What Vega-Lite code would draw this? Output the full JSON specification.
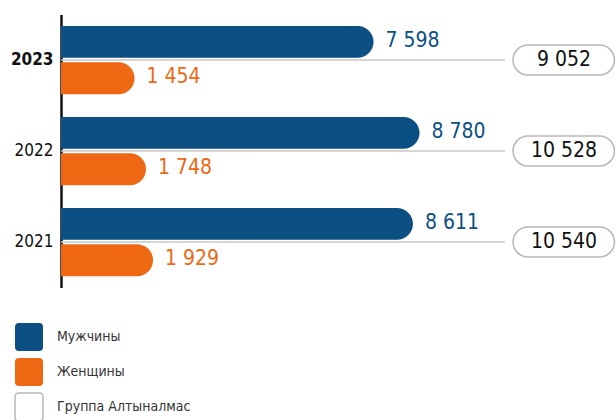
{
  "$schema": "https://vega.github.io/schema/vega-lite/v6.json",
  "width": 555,
  "height": 273,
  "autosize": {"type": "none"},
  "padding": {"left": 61, "top": 14.5, "right": 0, "bottom": 132.5},
  "background": "white",
  "config": {
    "font": "'DejaVu Sans Condensed', 'Liberation Sans Narrow', Roboto, sans-serif",
    "view": {"stroke": null},
    "locale": {"number": {"decimal": ",", "thousands": " ", "grouping": [3], "currency": ["", ""]}}
  },
  "datasets": {
    "bars": [
      {"year": "2023", "gender": "Мужчины", "value": 7598},
      {"year": "2023", "gender": "Женщины", "value": 1454},
      {"year": "2022", "gender": "Мужчины", "value": 8780},
      {"year": "2022", "gender": "Женщины", "value": 1748},
      {"year": "2021", "gender": "Мужчины", "value": 8611},
      {"year": "2021", "gender": "Женщины", "value": 1929}
    ],
    "totals": [
      {"year": "2023", "total": 9052},
      {"year": "2022", "total": 10528},
      {"year": "2021", "total": 10540}
    ]
  },
  "encoding": {
    "y": {
      "field": "year",
      "type": "nominal",
      "sort": ["2023", "2022", "2021"],
      "scale": {"paddingInner": 0.25, "paddingOuter": 0.125},
      "axis": {
        "title": null,
        "domainColor": "#111111",
        "domainWidth": 2.5,
        "ticks": false,
        "labelPadding": 8,
        "labelFontSize": 17,
        "labelColor": "#111111",
        "labelFontWeight": {"condition": {"test": "datum.value == '2023'", "value": "bold"}, "value": "normal"}
      }
    }
  },
  "layer": [
    {
      "data": {"name": "totals"},
      "mark": {"type": "rule", "color": "#c8c8c8", "strokeWidth": 1.5},
      "encoding": {
        "x": {"datum": -437, "type": "quantitative", "scale": {"domain": [-437, 13830], "zero": false, "nice": false}, "axis": null},
        "x2": {"datum": 10977}
      }
    },
    {
      "data": {"name": "bars"},
      "mark": {"type": "bar", "cornerRadiusTopRight": 16, "cornerRadiusBottomRight": 16},
      "encoding": {
        "yOffset": {"field": "gender", "type": "nominal", "sort": ["Мужчины", "Женщины"], "scale": {"paddingInner": 0.12, "paddingOuter": 0}},
        "x": {"field": "value", "type": "quantitative"},
        "x2": {"datum": -437},
        "color": {
          "field": "gender",
          "type": "nominal",
          "scale": {"domain": ["Мужчины", "Женщины", "Группа Алтыналмас"], "range": ["#0c4f82", "#ee6813", "#ffffff"]},
          "legend": {
            "title": null,
            "orient": "none",
            "legendX": -47,
            "legendY": 307.5,
            "direction": "vertical",
            "padding": 0,
            "symbolType": "M-0.75,-1H0.75A0.25,0.25 0 0 1 1,-0.75V0.75A0.25,0.25 0 0 1 0.75,1H-0.75A0.25,0.25 0 0 1 -1,0.75V-0.75A0.25,0.25 0 0 1 -0.75,-1Z",
            "symbolSize": 784,
            "symbolOpacity": 1,
            "symbolStrokeWidth": 1.5,
            "rowPadding": 1,
            "labelOffset": 13,
            "labelFontSize": 14,
            "labelColor": "#333333",
            "labelLimit": 300,
            "encode": {
              "symbols": {
                "update": {
                  "stroke": {"signal": "datum.value === 'Группа Алтыналмас' ? '#b8b8b8' : 'transparent'"}
                }
              }
            }
          }
        }
      }
    },
    {
      "data": {"name": "bars"},
      "mark": {"type": "text", "align": "left", "baseline": "middle", "dx": 12, "dy": -1, "fontSize": 21},
      "encoding": {
        "yOffset": {"field": "gender", "type": "nominal", "sort": ["Мужчины", "Женщины"]},
        "x": {"field": "value", "type": "quantitative"},
        "text": {"field": "value", "type": "quantitative", "format": ",d"},
        "color": {"field": "gender", "type": "nominal"}
      }
    },
    {
      "data": {"name": "totals"},
      "mark": {"type": "bar", "height": 30, "cornerRadius": 15, "stroke": "#b8b8b8", "strokeWidth": 1.5},
      "encoding": {
        "x": {"datum": 11183, "type": "quantitative"},
        "x2": {"datum": 13790},
        "color": {"datum": "Группа Алтыналмас"}
      }
    },
    {
      "data": {"name": "totals"},
      "mark": {"type": "text", "align": "center", "baseline": "middle", "fontSize": 21, "color": "#111111"},
      "encoding": {
        "x": {"datum": 12494, "type": "quantitative"},
        "text": {"field": "total", "type": "quantitative", "format": ",d"}
      }
    }
  ]
}
